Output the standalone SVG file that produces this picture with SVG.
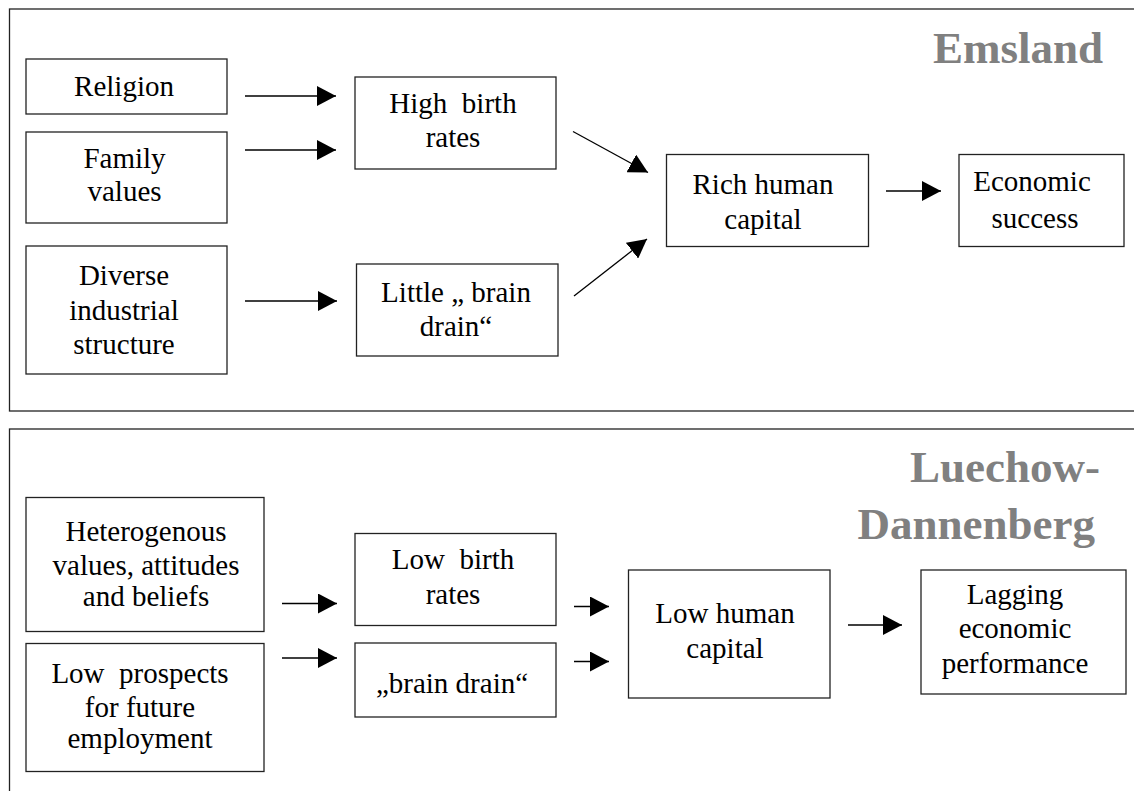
<svg xmlns="http://www.w3.org/2000/svg" width="1134" height="791" viewBox="0 0 1134 791">
<defs>
<style>
.frame{fill:none;stroke:#222;stroke-width:1.3}
.box{fill:#fff;stroke:#222;stroke-width:1.3}
.t{font-family:"Liberation Serif","Times New Roman",serif;font-size:29px;fill:#000;text-anchor:middle}
.title{font-family:"Liberation Serif","Times New Roman",serif;font-size:45px;font-weight:bold;fill:#808080;text-anchor:end}
.c{stroke:#000;stroke-width:1.3;fill:none;marker-end:url(#ah)}
</style>
<marker id="ah" viewBox="0 0 19 20" refX="19" refY="10" markerWidth="19" markerHeight="20" markerUnits="userSpaceOnUse" orient="auto">
<path d="M0,0 L19,10 L0,20 z" fill="#000"/>
</marker>
</defs>
<rect width="1134" height="791" fill="#fff"/>
<g id="panel-emsland">
<rect class="frame" x="9.5" y="9" width="1140" height="402"/>
<text class="title" x="1103" y="63">Emsland</text>
</g>
<g id="panel-luechow">
<rect class="frame" x="9.5" y="429" width="1140" height="400"/>
<text class="title" x="1100" y="482">Luechow-</text>
<text class="title" x="1095" y="539">Dannenberg</text>
</g>
<g id="religion"><rect class="box" x="26" y="59" width="201" height="55"/><text class="t" x="124" y="96">Religion</text></g>
<g id="family-values"><rect class="box" x="26" y="132" width="201" height="91"/><text class="t" x="124.5" y="168">Family</text><text class="t" x="124.5" y="201">values</text></g>
<g id="diverse"><rect class="box" x="26" y="246" width="201" height="128"/><text class="t" x="124" y="285">Diverse</text><text class="t" x="124" y="320">industrial</text><text class="t" x="124" y="354">structure</text></g>
<g id="high-birth"><rect class="box" x="355" y="77" width="201" height="92"/><text class="t" x="453" y="113" xml:space="preserve">High  birth</text><text class="t" x="453" y="147">rates</text></g>
<g id="little-brain-drain"><rect class="box" x="356.5" y="264" width="201.5" height="92"/><text class="t" x="456" y="302">Little „ brain</text><text class="t" x="456" y="336">drain“</text></g>
<g id="rich-human"><rect class="box" x="666.5" y="154.5" width="202" height="92"/><text class="t" x="763" y="194">Rich human</text><text class="t" x="763" y="229">capital</text></g>
<g id="economic-success"><rect class="box" x="959" y="154.5" width="165" height="92"/><text class="t" x="1032" y="191">Economic</text><text class="t" x="1035" y="228">success</text></g>
<g id="heterogenous"><rect class="box" x="26" y="497.5" width="238" height="134"/><text class="t" x="146" y="541">Heterogenous</text><text class="t" x="146" y="575">values, attitudes</text><text class="t" x="146" y="606">and beliefs</text></g>
<g id="low-prospects"><rect class="box" x="26" y="643.5" width="238" height="128"/><text class="t" x="140" y="683" xml:space="preserve">Low  prospects</text><text class="t" x="140" y="717">for future</text><text class="t" x="140" y="748">employment</text></g>
<g id="low-birth"><rect class="box" x="355" y="533.5" width="201" height="92"/><text class="t" x="453" y="569" xml:space="preserve">Low  birth</text><text class="t" x="453" y="604">rates</text></g>
<g id="brain-drain"><rect class="box" x="355" y="643" width="201" height="74"/><text class="t" x="452" y="693">„brain drain“</text></g>
<g id="low-human"><rect class="box" x="628.5" y="570" width="201.5" height="128"/><text class="t" x="725" y="623">Low human</text><text class="t" x="725" y="658">capital</text></g>
<g id="lagging"><rect class="box" x="921" y="570" width="205" height="124"/><text class="t" x="1015" y="604">Lagging</text><text class="t" x="1015" y="638">economic</text><text class="t" x="1015" y="673">performance</text></g>
<g id="connectors">
<line class="c" x1="245" y1="96" x2="336" y2="96"/>
<line class="c" x1="245" y1="150" x2="336" y2="150"/>
<line class="c" x1="245" y1="301" x2="337" y2="301"/>
<line class="c" x1="573" y1="131.5" x2="648" y2="172.5"/>
<line class="c" x1="574" y1="296" x2="647" y2="239"/>
<line class="c" x1="886" y1="191" x2="941" y2="191"/>
<line class="c" x1="282" y1="603.5" x2="337" y2="603.5"/>
<line class="c" x1="282" y1="658" x2="337" y2="658"/>
<line class="c" x1="574" y1="606.5" x2="609" y2="606.5"/>
<line class="c" x1="574" y1="661.5" x2="609" y2="661.5"/>
<line class="c" x1="848" y1="625" x2="902" y2="625"/>
</g>
</svg>
